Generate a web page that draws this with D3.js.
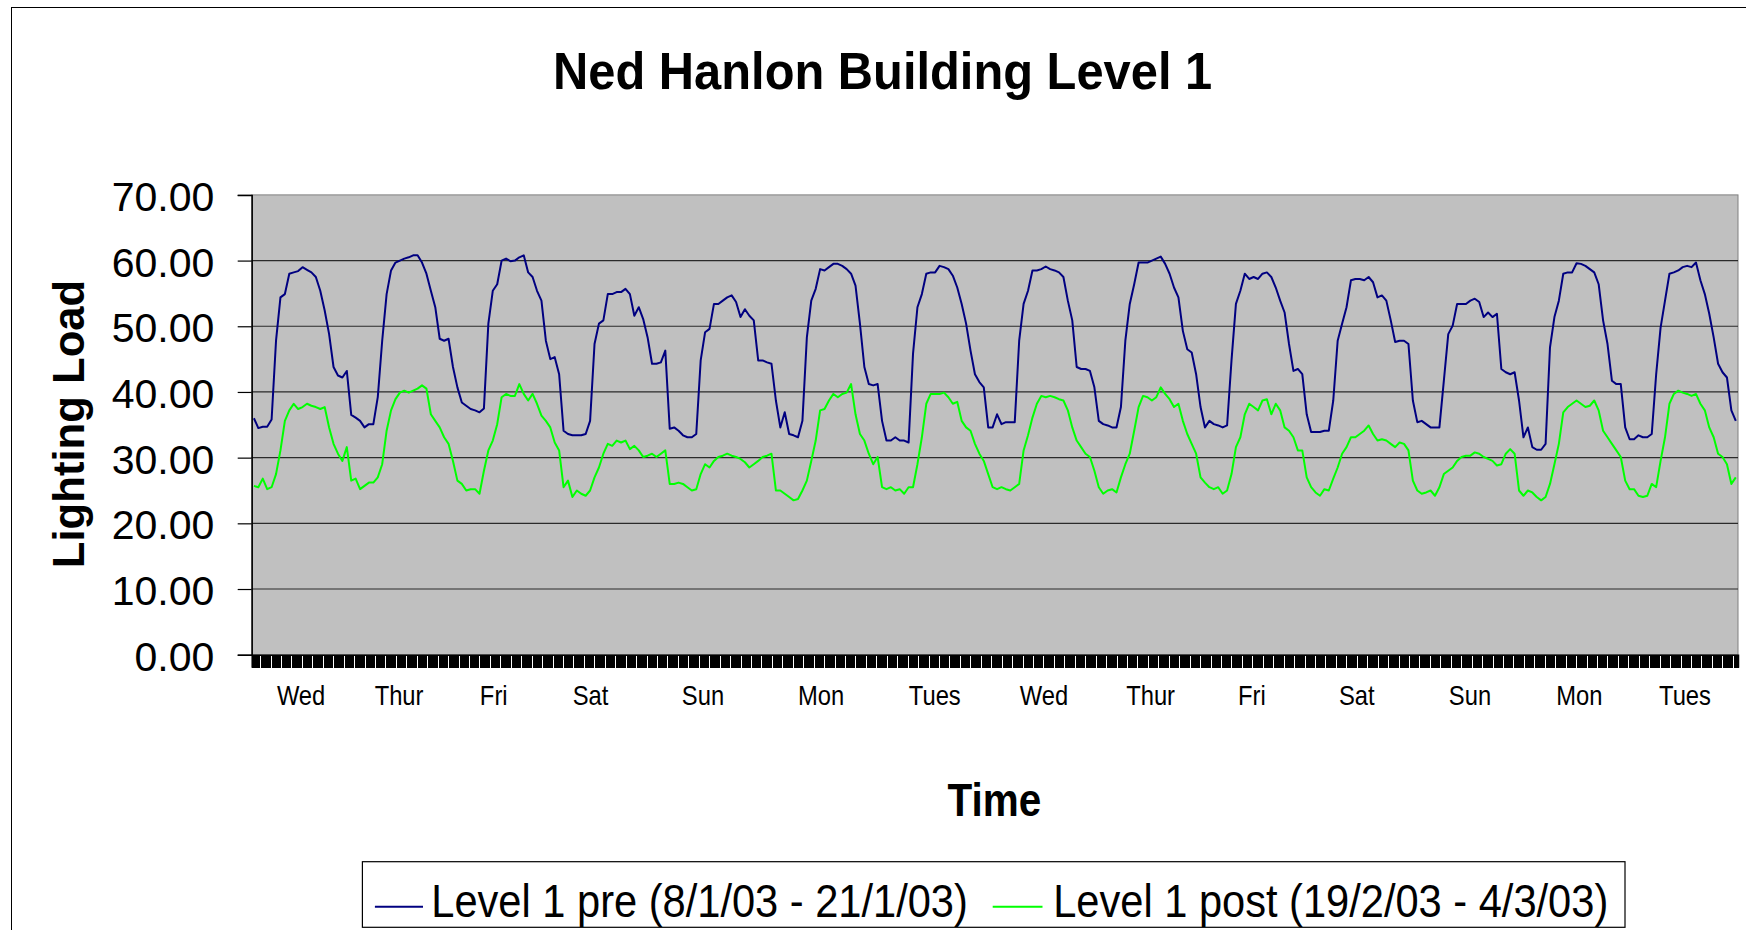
<!DOCTYPE html>
<html>
<head>
<meta charset="utf-8">
<script src="https://cdn.jsdelivr.net/npm/d3@7"></script>
<style>
  html, body { margin: 0; padding: 0; background: #fff; }
  svg { display: block; }
  text { font-family: "Liberation Sans", Arial, sans-serif; fill: #000; }
</style>
</head>
<body>
<svg id="chart" width="1746" height="930"></svg>
<script>
// ---- Data (hourly readings, 14 days) ----
const seriesNames = ["Level 1 pre (8/1/03 - 21/1/03)", "Level 1 post (19/2/03 - 4/3/03)"];

const preLoad = [
  36.0,34.5,34.7,34.7,35.8,47.8,54.4,54.9,58.0,58.2,
  58.4,59.0,58.6,58.2,57.5,55.4,52.4,48.8,43.8,42.5,
  42.2,43.2,36.5,36.1,35.6,34.6,35.1,35.1,39.2,47.8,
  54.9,58.5,59.7,60.0,60.3,60.5,60.8,60.8,59.7,58.0,
  55.4,52.9,48.1,47.8,48.1,43.8,40.7,38.4,37.9,37.4,
  37.2,36.9,37.5,50.4,55.4,56.4,
  60.0,60.3,59.9,60.0,60.5,60.8,58.2,57.5,55.4,53.9,
  47.8,45.0,45.3,42.7,34.1,33.6,33.4,33.4,33.4,33.6,
  35.6,47.3,50.4,50.9,54.9,54.9,55.2,55.2,55.7,54.9,
  51.6,52.9,51.1,48.3,44.3,44.3,44.5,46.3,34.4,34.6,
  34.1,33.4,33.1,33.1,33.6,44.8,49.1,49.6,53.4,53.4,
  53.9,54.4,54.7,53.7,51.4,52.6,51.6,
  50.9,44.8,44.8,44.5,44.3,38.7,34.6,36.9,33.6,33.4,
  33.1,35.6,48.3,53.9,55.7,58.7,58.5,59.0,59.5,59.5,
  59.2,58.7,58.0,56.2,50.4,43.8,41.2,41.0,41.2,35.6,
  32.6,32.6,33.1,32.6,32.6,32.3,45.8,52.9,54.9,58.0,
  58.2,58.2,59.2,59.0,58.7,57.7,55.9,53.4,50.4,46.3,
  42.7,41.5,40.7,34.6,34.6,36.6,
  35.1,35.4,35.4,35.4,47.8,53.4,55.4,58.5,58.5,58.7,
  59.1,58.7,58.5,58.2,57.5,53.9,50.9,43.8,43.5,43.5,
  43.2,40.7,35.6,35.1,34.9,34.6,34.6,37.7,47.8,53.4,
  56.4,59.7,59.7,59.7,60.0,60.3,60.6,59.5,58.0,55.9,
  54.4,49.3,46.5,46.0,42.7,37.7,34.6,35.6,35.1,34.9,
  34.6,34.9,44.8,53.4,55.4,58.0,57.2,
  57.5,57.2,58.0,58.2,57.5,55.9,53.9,52.1,47.3,43.2,
  43.5,42.7,36.6,33.9,33.9,33.9,34.1,34.1,38.7,47.8,
  50.4,52.9,57.0,57.2,57.2,57.0,57.5,56.7,54.4,54.7,
  53.9,50.9,47.6,47.8,47.8,47.3,38.7,35.4,35.6,35.1,
  34.6,34.6,34.6,41.7,48.8,50.1,53.4,53.4,53.4,53.9,
  54.2,53.7,51.4,52.1,51.4,51.9,
  43.5,43.0,42.7,43.0,38.7,33.1,34.6,31.6,31.2,31.2,
  32.1,46.8,51.4,53.9,58.0,58.2,58.2,59.6,59.5,59.2,
  58.7,58.2,56.4,50.9,47.3,41.7,41.2,41.2,34.6,32.8,
  32.8,33.4,33.1,33.1,33.6,42.7,49.8,53.9,58.0,58.2,
  58.5,59.0,59.2,59.0,59.7,57.0,54.9,51.9,48.3,44.3,
  43.0,42.2,37.2,35.6
];

const postLoad = [
  25.7,25.5,26.8,25.2,25.5,27.5,31.1,35.6,37.2,38.2,
  37.4,37.7,38.2,37.9,37.7,37.4,37.7,34.6,32.1,30.6,
  29.5,31.6,26.5,26.8,25.2,25.7,26.2,26.2,27.0,29.0,
  34.1,37.2,38.9,39.9,40.2,39.9,40.2,40.5,41.0,40.5,
  36.6,35.6,34.6,33.1,32.1,29.5,26.5,26.0,25.0,25.2,
  25.2,24.5,28.0,31.1,32.6,35.1,
  39.2,39.7,39.4,39.4,41.2,39.7,38.7,39.7,38.2,36.4,
  35.6,34.6,32.3,31.1,25.5,26.5,24.0,25.0,24.5,24.2,
  25.0,27.0,28.5,30.6,32.1,31.8,32.6,32.3,32.6,31.3,
  31.8,31.1,30.1,30.3,30.6,30.1,30.6,31.1,26.0,26.0,
  26.2,26.0,25.5,25.0,25.2,27.5,29.0,28.5,29.5,30.1,
  30.3,30.6,30.3,30.1,29.8,29.3,28.5,
  29.0,29.5,30.1,30.3,30.6,25.0,25.0,24.5,24.0,23.5,
  23.7,25.0,26.5,29.5,32.6,37.2,37.4,38.7,39.7,39.2,
  39.7,39.9,41.2,36.6,33.6,32.6,30.6,29.0,30.1,25.5,
  25.2,25.5,25.0,25.2,24.5,25.5,25.5,29.0,33.1,38.2,
  39.7,39.7,39.7,39.9,39.2,38.2,38.5,35.6,34.6,34.1,
  32.1,30.6,29.5,27.5,25.5,25.2,
  25.5,25.2,25.0,25.5,26.0,31.1,33.4,36.1,38.2,39.4,
  39.2,39.4,39.2,38.9,38.7,37.2,34.6,32.6,31.6,30.6,
  30.1,28.0,25.5,24.5,25.0,25.2,24.7,27.0,29.0,30.6,
  34.1,37.7,39.4,39.2,38.7,39.2,40.7,39.7,38.9,37.7,
  38.2,35.6,33.6,32.1,30.6,27.0,26.2,25.5,25.2,25.5,
  24.5,25.0,27.5,31.6,33.1,36.6,38.2,
  37.7,37.2,38.7,38.9,36.6,38.2,37.2,34.6,34.1,33.1,
  31.1,31.1,27.0,25.5,24.7,24.2,25.2,25.0,26.8,28.5,
  30.6,31.6,33.1,33.1,33.6,34.1,34.9,33.6,32.6,32.8,
  32.6,32.1,31.6,32.3,32.1,31.1,26.5,25.0,24.5,24.7,
  25.0,24.2,25.5,27.5,28.0,28.5,29.5,30.1,30.3,30.3,
  30.8,30.6,30.1,29.8,29.5,28.8,
  29.0,30.6,31.3,30.6,25.0,24.2,25.0,24.7,24.0,23.5,
  24.0,26.0,29.0,32.1,36.9,37.7,38.2,38.7,38.2,37.7,
  37.9,38.7,37.2,34.1,33.1,32.1,31.1,30.1,26.5,25.2,
  25.2,24.2,24.0,24.2,26.0,25.5,29.5,33.1,38.2,39.7,
  40.2,39.9,39.7,39.4,39.7,38.2,37.2,34.6,33.1,30.6,
  30.1,29.0,26.0,27.0
];

// Day labels on the category axis and where they sit (in hours from start)
const dayLabels = ["Wed","Thur","Fri","Sat","Sun","Mon","Tues","Wed","Thur","Fri","Sat","Sun","Mon","Tues"];
const dayLabelPos = [11.05,33.2,54.6,76.5,101.9,128.6,154.3,179.0,203.1,226.0,249.7,275.3,300.0,323.9];
const yTicks = [0,10,20,30,40,50,60,70];

const titleText = "Ned Hanlon Building Level 1";
const xTitle = "Time";
const yTitle = "Lighting Load";

// ---- Layout ----
const W = 1746, H = 930;
const plot = { left: 251.7, right: 1738, top: 194.9, bottom: 654.7 };
const colors = ["#000080", "#00FF00"];
const N = preLoad.length;

const svg = d3.select("#chart");

// chart area border (right/bottom outside the viewport)
svg.append("rect").attr("x", 11.5).attr("y", 7.5).attr("width", W + 20).attr("height", H + 20)
  .attr("fill", "#fff").attr("stroke", "#000").attr("stroke-width", 1);

const x = d3.scaleLinear().domain([0, N]).range([plot.left, plot.right]);
const y = d3.scaleLinear().domain([0, 70]).range([plot.bottom, plot.top]);

// plot background
svg.append("rect").attr("x", plot.left).attr("y", plot.top)
  .attr("width", plot.right - plot.left).attr("height", plot.bottom - plot.top)
  .attr("fill", "#C0C0C0").attr("stroke", "#808080").attr("stroke-width", 1);

// gridlines
svg.append("g").selectAll("line").data(yTicks.filter(d => d > 0 && d < 70)).join("line")
  .attr("x1", plot.left).attr("x2", plot.right)
  .attr("y1", d => y(d)).attr("y2", d => y(d))
  .attr("stroke", "#2a2a2a").attr("stroke-width", 1.2);

// lines
const line = d3.line().x((d, i) => x(i + 0.5)).y(d => y(d));
[preLoad, postLoad].forEach((s, k) => {
  svg.append("path").datum(s).attr("d", line)
    .attr("fill", "none").attr("stroke", colors[k]).attr("stroke-width", 2)
    .attr("stroke-linejoin", "round");
});

// y axis
const yAxis = svg.append("g").attr("transform", `translate(${plot.left},0)`)
  .call(d3.axisLeft(y).tickValues(yTicks).tickSize(14).tickPadding(23.4).tickFormat(d3.format(".2f")));
yAxis.select(".domain").attr("stroke", "#000").attr("stroke-width", 1.5);
yAxis.selectAll(".tick line").attr("stroke", "#000").attr("stroke-width", 1.2);
yAxis.selectAll(".tick text").attr("font-size", 41).attr("dy", 15.5)
  .attr("font-family", "'Liberation Sans', Arial, sans-serif").attr("fill", "#000");

// x axis: dense ticks (one per quarter hour)
const xAxis = svg.append("g").attr("transform", `translate(0,${plot.bottom})`)
  .call(d3.axisBottom(x).tickValues(d3.range(0, N + 0.01, 0.25)).tickSize(13).tickFormat(""));
xAxis.select(".domain").attr("stroke", "#000").attr("stroke-width", 1.5);
xAxis.selectAll(".tick line").attr("stroke", "#000").attr("stroke-width", 1)
  .attr("shape-rendering", "crispEdges");

// x axis: day labels
const xLab = svg.append("g").attr("transform", `translate(0,${plot.bottom})`)
  .call(d3.axisBottom(x).tickValues(dayLabelPos).tickSize(0).tickPadding(0)
    .tickFormat((d, i) => dayLabels[i]));
xLab.select(".domain").remove();
xLab.selectAll(".tick text").attr("font-size", 27).attr("y", 50.3).attr("dy", 0)
  .attr("transform", "scale(0.88,1)")
  .attr("font-family", "'Liberation Sans', Arial, sans-serif").attr("fill", "#000");

// title
svg.append("text").attr("transform", "translate(882.6,89.3) scale(0.93,1)")
  .attr("text-anchor", "middle").attr("font-size", 52.5).attr("font-weight", "bold").text(titleText);

// axis titles
svg.append("text").attr("transform", "translate(994.3,816) scale(0.88,1)")
  .attr("text-anchor", "middle").attr("font-size", 46).attr("font-weight", "bold").text(xTitle);
svg.append("text").attr("transform", "translate(84.2,424) rotate(-90) scale(0.97,1)")
  .attr("text-anchor", "middle").attr("font-size", 45).attr("font-weight", "bold").text(yTitle);

// legend
const lg = svg.append("g");
lg.append("rect").attr("x", 362.4).attr("y", 861.7).attr("width", 1625 - 362.4).attr("height", 927.3 - 861.7)
  .attr("fill", "#fff").attr("stroke", "#000").attr("stroke-width", 1.2);
const legendItems = [
  { x1: 374.9, x2: 423, tx: 431.3 },
  { x1: 992.7, x2: 1042.5, tx: 1053.2 }
];
legendItems.forEach((it, k) => {
  lg.append("line").attr("x1", it.x1).attr("x2", it.x2).attr("y1", 906.7).attr("y2", 906.7)
    .attr("stroke", colors[k]).attr("stroke-width", 2);
  lg.append("text").attr("transform", `translate(${it.tx},916.7) scale(0.895,1)`)
    .attr("font-size", 46.5).text(seriesNames[k]);
});
</script>
</body>
</html>
